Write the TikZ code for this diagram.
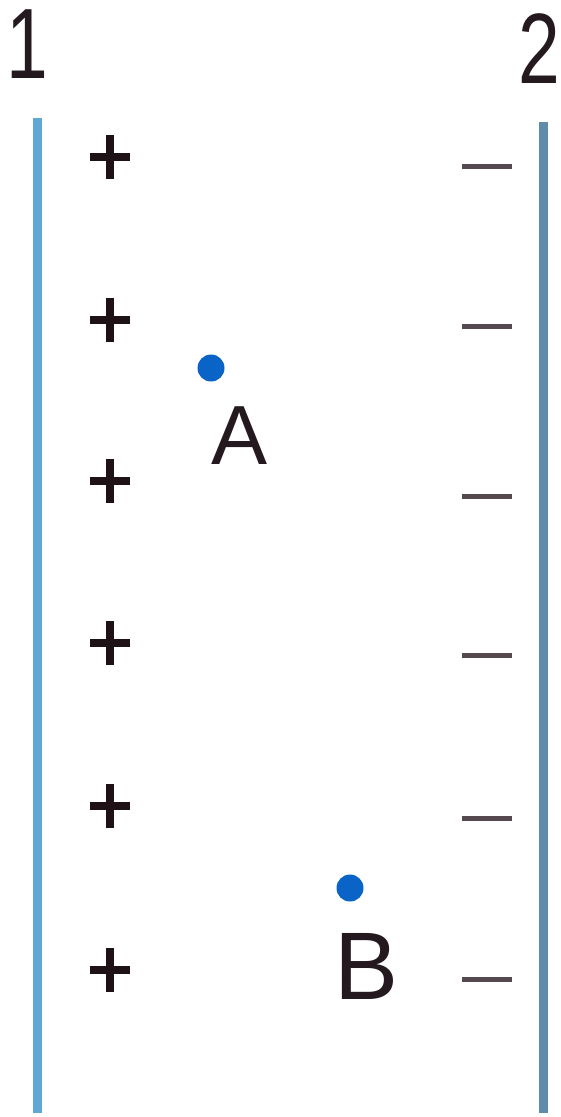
\documentclass[tikz,border=0pt]{standalone}
\usepackage{fontspec}
\setmainfont{Liberation Sans}
\definecolor{lineL}{RGB}{95,168,212}
\definecolor{lineR}{RGB}{95,140,170}
\definecolor{chargeP}{RGB}{30,18,22}
\definecolor{chargeM}{RGB}{85,72,78}
\definecolor{dotc}{RGB}{10,100,200}
\definecolor{txt}{RGB}{35,25,30}
\begin{document}
\begin{tikzpicture}[x=1pt,y=-1pt,
  plate/.style={line width=9pt},
  pluscharge/.style={draw=chargeP,line width=7.5pt},
  minuscharge/.style={draw=chargeM,line width=5pt},
  pointdot/.style={circle,fill=dotc,minimum size=27pt,inner sep=0pt},
  lab/.style={text=txt,inner sep=0pt,anchor=center},
  platelab/.style={lab,font=\fontsize{100}{100}\selectfont,xscale=0.75}]
\useasboundingbox (0,0) rectangle (561,1117);
% labels of plates
\node[platelab] (l1) at (27,44) {1};
\node[platelab] (l2) at (539,49) {2};
% plates
\coordinate (p1t) at (37,118);
\coordinate (p1b) at (37,1113);
\coordinate (p2t) at (543,122);
\coordinate (p2b) at (543,1113);
\draw[plate,lineL] (p1t) -- (p1b);
\draw[plate,lineR] (p2t) -- (p2b);
% plus charges
\foreach \y [count=\i] in {157,320,481,643,806,970}{
  \coordinate (pc\i) at (110,\y);
  \draw[pluscharge] ([xshift=-20pt]pc\i) -- ([xshift=20pt]pc\i);
  \draw[pluscharge] ([yshift=-22pt]pc\i) -- ([yshift=22pt]pc\i);
}
% minus charges
\foreach \y [count=\i] in {166,326,496,655,818,979}{
  \coordinate (mc\i) at (487,\y);
  \draw[minuscharge] ([xshift=-25pt]mc\i) -- ([xshift=25pt]mc\i);
}
% points
\node[pointdot] (A) at (211,368) {};
\node[lab,font=\fontsize{84}{84}\selectfont] (lA) at (240,436) {A};
\node[pointdot] (B) at (350,888) {};
\node[lab,font=\fontsize{96}{96}\selectfont] (lB) at (367,966) {B};
\end{tikzpicture}
\end{document}
